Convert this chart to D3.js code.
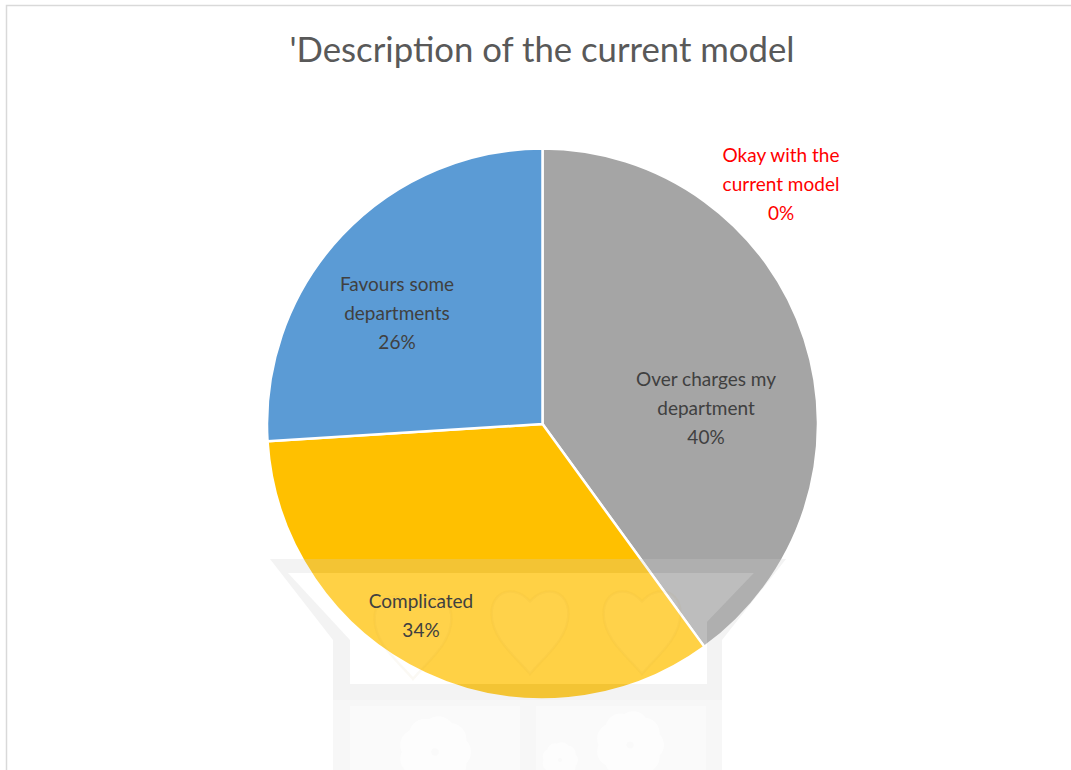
<!DOCTYPE html>
<html>
<head>
<meta charset="utf-8">
<script src="https://cdn.jsdelivr.net/npm/d3@7"></script>
<style>
  html, body { margin: 0; padding: 0; background: #fff; }
  svg { display: block; }
  text { font-family: Lato, "Open Sans", sans-serif; }
</style>
</head>
<body>
<svg id="chart" width="1071" height="770"></svg>
<script>
// Survey responses: how staff describe the current charging model
const title = "'Description of the current model";
const categories = ["Okay with the current model", "Over charges my department", "Complicated", "Favours some departments"];
const shares = [0, 40, 34, 26];
const labelLines = [
  ["Okay with the", "current model"],
  ["Over charges my", "department"],
  ["Complicated"],
  ["Favours some", "departments"]
];

// Presentation
const sliceColors = ["#ED7D31", "#A5A5A5", "#FFC000", "#5B9BD5"];
const labelColors = ["#FF0000", "#404040", "#404040", "#404040"];
const labelAnchors = [[781, 184], [706, 408], [421, 615], [397, 313]];

const W = 1071, H = 770;
const cx = 542.5, cy = 424, R = 275.5;
const lineGap = 29;

const svg = d3.select("#chart");

// chart-area border
svg.append("rect")
  .attr("x", 6.5).attr("y", 5.5)
  .attr("width", W + 10).attr("height", H + 10)
  .attr("fill", "#fff")
  .attr("stroke", "#d9d9d9").attr("stroke-width", 1.5);

// title, scaled to its box width
const titleEl = svg.append("text")
  .attr("x", 542).attr("y", 62)
  .attr("text-anchor", "middle")
  .attr("fill", "#595959")
  .style("font-size", "33px")
  .text(title);
const tw = titleEl.node().getComputedTextLength();
titleEl.style("font-size", (33 * 505 / tw).toFixed(2) + "px");

// pie
const pie = d3.pie().sort(null).value(d => d).startAngle(0).endAngle(2 * Math.PI);
const arcs = pie(shares);
const arc = d3.arc().innerRadius(0).outerRadius(R);

const g = svg.append("g").attr("transform", `translate(${cx},${cy})`);
g.selectAll("path.slice")
  .data(arcs)
  .join("path")
  .attr("class", "slice")
  .attr("d", arc)
  .attr("fill", (d, i) => sliceColors[i])
  .attr("stroke", "#fff")
  .attr("stroke-width", 2.5)
  .attr("stroke-linejoin", "round");

// faded emblem printed behind the page content
const wm = svg.append("g").attr("class", "emblem");
// pediment interior
wm.append("path")
  .attr("d", "M288,573 L754,573 L707,622 L707,684 L350,684 L350,640 Z")
  .attr("fill", "#fff").attr("fill-opacity", 0.27);
// pediment frame band
wm.append("path")
  .attr("d", "M270,559 L786,559 L722,640 L722,700 L333,700 L333,640 Z " +
             "M288,573 L350,640 L350,684 L707,684 L707,622 L754,573 Z")
  .attr("fill-rule", "evenodd")
  .attr("fill", "#d0d0d0").attr("fill-opacity", 0.25);
// hearts
const heart = (x, y, s) => `M${x},${y + 0.95 * s}
  C${x - 0.2 * s},${y + 0.7 * s} ${x - 0.62 * s},${y + 0.4 * s} ${x - 0.62 * s},${y - 0.02 * s}
  C${x - 0.62 * s},${y - 0.4 * s} ${x - 0.25 * s},${y - 0.5 * s} ${x},${y - 0.22 * s}
  C${x + 0.25 * s},${y - 0.5 * s} ${x + 0.62 * s},${y - 0.4 * s} ${x + 0.62 * s},${y - 0.02 * s}
  C${x + 0.62 * s},${y + 0.4 * s} ${x + 0.2 * s},${y + 0.7 * s} ${x},${y + 0.95 * s} Z`;
[[413, 620], [530, 615], [642, 615]].forEach(([x, y]) => {
  wm.append("path").attr("d", heart(x, y, 62))
    .attr("fill", "#fff").attr("fill-opacity", 0.03)
    .attr("stroke", "#b08a20").attr("stroke-opacity", 0.05).attr("stroke-width", 2.5);
});
// lower pillars and panels
wm.append("rect").attr("x", 333).attr("y", 700).attr("width", 389).attr("height", 80)
  .attr("fill", "#000").attr("fill-opacity", 0.03);
wm.append("rect").attr("x", 350).attr("y", 706).attr("width", 170).attr("height", 80)
  .attr("fill", "#fff").attr("fill-opacity", 0.4);
wm.append("rect").attr("x", 536).attr("y", 706).attr("width", 170).attr("height", 80)
  .attr("fill", "#fff").attr("fill-opacity", 0.4);
// flower blobs in the panels
[[435, 752, 36], [560, 760, 18], [630, 745, 34]].forEach(([x, y, r]) => {
  const petals = d3.range(9).map(k => {
    const a = k / 9 * 2 * Math.PI;
    return `M${x + Math.cos(a) * r * 0.55},${y + Math.sin(a) * r * 0.55} m-${r * 0.45},0 a${r * 0.45},${r * 0.45} 0 1,0 ${r * 0.9},0 a${r * 0.45},${r * 0.45} 0 1,0 -${r * 0.9},0`;
  }).join(" ");
  wm.append("path").attr("d", petals).attr("fill", "#fff").attr("fill-opacity", 0.6);
});

// data labels: name lines plus percentage
const labels = svg.append("g").attr("class", "labels");
arcs.forEach((d, i) => {
  const lines = labelLines[i].concat([d3.format(".0f")(shares[i]) + "%"]);
  const [ax, ay] = labelAnchors[i];
  const top = ay - (lines.length - 1) * lineGap / 2;
  const t = labels.append("text")
    .attr("text-anchor", "middle")
    .attr("fill", labelColors[i])
    .style("font-size", "19px");
  lines.forEach((ln, k) => {
    t.append("tspan").attr("x", ax).attr("y", top + k * lineGap + 7).text(ln);
  });
});
</script>
</body>
</html>
